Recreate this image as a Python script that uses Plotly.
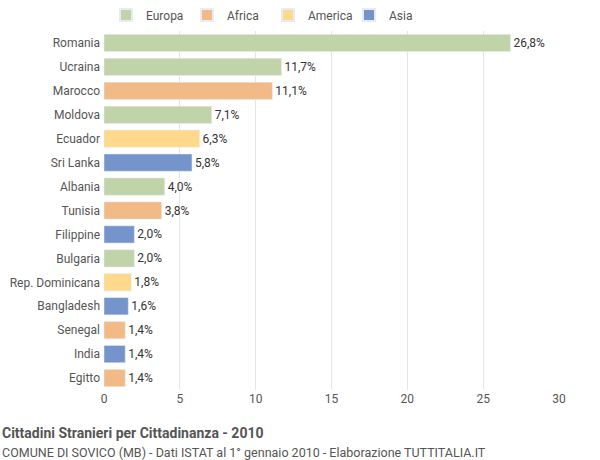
import plotly.graph_objects as go

countries = ["Romania","Ucraina","Marocco","Moldova","Ecuador","Sri Lanka","Albania","Tunisia",
             "Filippine","Bulgaria","Rep. Dominicana","Bangladesh","Senegal","India","Egitto"]
values = [26.8,11.7,11.1,7.1,6.3,5.8,4.0,3.8,2.0,2.0,1.8,1.6,1.4,1.4,1.4]
continents = ["Europa","Europa","Africa","Europa","America","Asia","Europa","Africa",
              "Asia","Europa","America","Asia","Africa","Asia","Africa"]
groups = ["Europa","Africa","America","Asia"]
colors = {"Europa":"#c1d3a8","Africa":"#f1ba87","America":"#fed98b","Asia":"#7594cb"}

fig = go.Figure()
for g in groups:
    idx = [i for i,c in enumerate(continents) if c == g]
    fig.add_trace(go.Bar(
        y=[countries[i] for i in idx], x=[values[i] for i in idx], orientation="h",
        name=g, marker_color=colors[g], width=0.72,
        text=[f"{values[i]:.1f}".replace(".", ",") + "%" for i in idx],
        textposition="outside", cliponaxis=False,
        textfont=dict(size=12, color="#333"),
    ))

H = 359.0
fig.update_layout(
    width=600, height=460, margin=dict(l=104, r=41, t=31, b=70, autoexpand=False),
    plot_bgcolor="white", paper_bgcolor="white", barmode="overlay",
    font=dict(family="Roboto, DejaVu Sans, sans-serif", size=12, color="#555"),
    legend=dict(orientation="h", x=(268-104)/455, xanchor="center", y=1 + (31-15)/H, yanchor="middle",
                font=dict(size=12, color="#555"), itemsizing="constant", itemwidth=30,
                entrywidth=36, entrywidthmode="pixels"),
    xaxis=dict(range=[0,30], tickvals=[0,5,10,15,20,25,30], showgrid=True, automargin=False,
               gridcolor="#e5e5e5", zeroline=False, ticks="", tickfont=dict(size=12, color="#555")),
    yaxis=dict(categoryorder="array", categoryarray=countries[::-1], ticks="", automargin=False,
               ticksuffix=" ", tickfont=dict(size=12, color="#555")),
)
fig.add_annotation(text="<b>Cittadini Stranieri per Cittadinanza - 2010</b>", xref="paper", yref="paper",
                   x=-104/455, y=-(433-390)/H, xanchor="left", yanchor="middle", showarrow=False,
                   font=dict(size=14, color="#555"))
fig.add_annotation(text="COMUNE DI SOVICO (MB) - Dati ISTAT al 1° gennaio 2010 - Elaborazione TUTTITALIA.IT",
                   xref="paper", yref="paper", x=-104/455, y=-(452-390)/H, xanchor="left",
                   yanchor="middle", showarrow=False, font=dict(size=12.5, color="#555"))
fig.write_html("out.html", post_script="document.body.style.margin='0';",
               config={"displayModeBar": False})
